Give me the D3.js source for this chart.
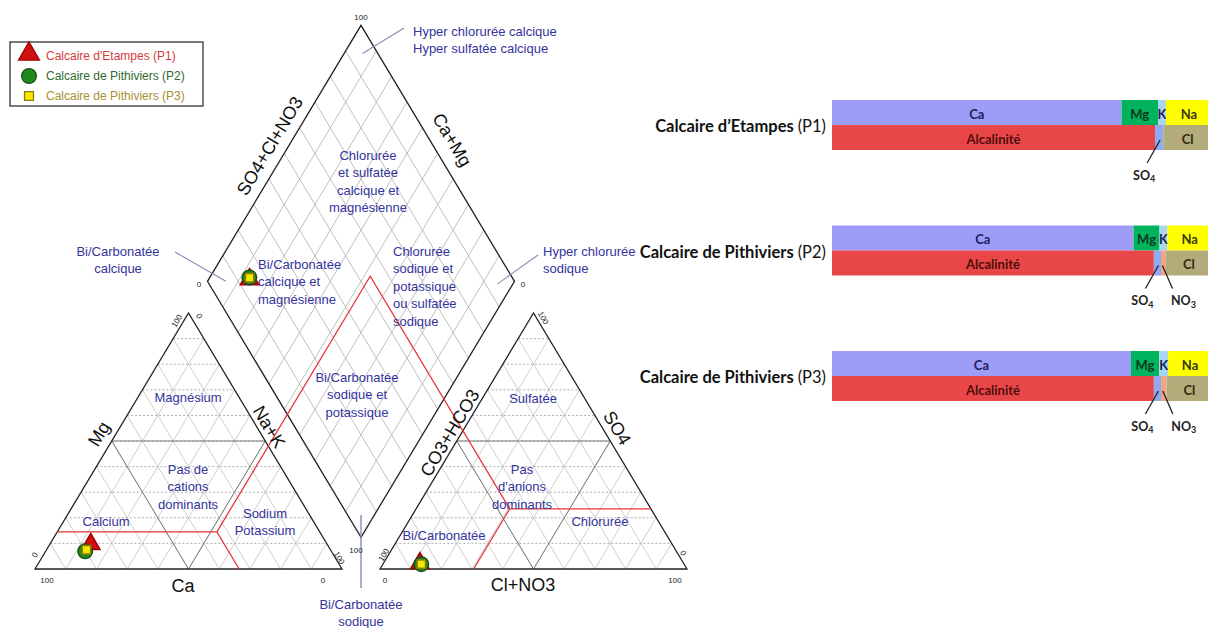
<!DOCTYPE html>
<html>
<head>
<meta charset="utf-8">
<script src="https://cdn.jsdelivr.net/npm/d3@7"></script>
<style>body{margin:0;background:#fff}</style>
</head>
<body>
<svg id="chart" width="1208" height="628"></svg>
<script>
// samples
var samples = ["P1", "P2", "P3"];
var sampleNames = ["Calcaire d\u2019Etampes", "Calcaire de Pithiviers", "Calcaire de Pithiviers"];
var legendNames = ["Calcaire d'Etampes (P1)", "Calcaire de Pithiviers (P2)", "Calcaire de Pithiviers (P3)"];
// cations, % meq
var ca = [77.0, 80.2, 79.5];
var mg = [9.7, 6.9, 7.5];
var k  = [2.1, 2.1, 2.4];
var na = [11.2, 10.8, 10.6];
// anions, % meq
var alc = [85.9, 85.6, 85.6];
var so4 = [2.2, 1.9, 1.9];
var no3 = [0.0, 1.3, 1.5];
var cl  = [11.9, 11.2, 11.0];
// grid steps and red boundary values
var gridSteps = [10, 20, 30, 40, 50, 60, 70, 80, 90];
var redMg = 14.5, redNaK = 52, redCa = 33.5;
var redSO4 = 23.5, redHCO3 = 46, redCl = 30.5;

var svg = d3.select("#chart");
var font = "'Liberation Sans', Arial, sans-serif";
var blue = "#34349c";

// piper geometry
var X0 = 35, Y0 = 569, S = 307, H = 256, G = 38;
var xs = d3.scaleLinear().domain([0, 100]).range([0, S]);
var ys = d3.scaleLinear().domain([0, 100]).range([0, H]);
var XB = X0 + S + G / 2, YB = Y0 - G * H / S;

function cat(c, m, n) { return [X0 + xs(n + m / 2), Y0 - ys(m)]; }
function ani(h, s, c) { return [X0 + S + G + xs(c + s / 2), Y0 - ys(s)]; }
function dia(a, c) { return [XB + xs((a - c) / 2), YB - ys(a + c)]; }

var line = d3.line();
var g = svg.append("g");

function seg(p, q, col, w, dash) {
	g.append("path").attr("d", line([p, q])).attr("stroke", col)
		.attr("stroke-width", w).attr("fill", "none")
		.attr("stroke-dasharray", dash || null);
}

// grids
gridSteps.forEach(function(i) {
	seg(cat(100 - i, i, 0), cat(0, i, 100 - i), "#9a9a9a", 0.8, "2,2");
	seg(cat(100 - i, 0, i), cat(0, 100 - i, i), "#c2c2c2", 0.8);
	seg(cat(i, 0, 100 - i), cat(i, 100 - i, 0), "#c2c2c2", 0.8);
	seg(ani(100 - i, i, 0), ani(0, i, 100 - i), "#9a9a9a", 0.8, "2,2");
	seg(ani(100 - i, 0, i), ani(0, 100 - i, i), "#c2c2c2", 0.8);
	seg(ani(i, 0, 100 - i), ani(i, 100 - i, 0), "#c2c2c2", 0.8);
	seg(dia(i, 0), dia(i, 100), "#b0b0b0", 0.8);
	seg(dia(0, i), dia(100, i), "#b0b0b0", 0.8);
});

// zone boundaries
[[cat, [50, 50, 0], [0, 50, 50]], [cat, [50, 0, 50], [50, 50, 0]], [cat, [50, 0, 50], [0, 50, 50]],
 [ani, [50, 50, 0], [0, 50, 50]], [ani, [50, 0, 50], [50, 50, 0]], [ani, [50, 0, 50], [0, 50, 50]]]
	.forEach(function(d) { seg(d[0].apply(null, d[1]), d[0].apply(null, d[2]), "#7a7a7a", 1); });

// outlines
function poly(pts) {
	g.append("path").attr("d", line(pts) + "Z").attr("fill", "none")
		.attr("stroke", "#222").attr("stroke-width", 1.3);
}
poly([cat(100, 0, 0), cat(0, 0, 100), cat(0, 100, 0)]);
poly([ani(100, 0, 0), ani(0, 0, 100), ani(0, 100, 0)]);
poly([dia(0, 0), dia(100, 0), dia(100, 100), dia(0, 100)]);

// red classification lines
var red = "#e8343a";
function redLine(pts) {
	g.append("path").attr("d", line(pts)).attr("fill", "none")
		.attr("stroke", red).attr("stroke-width", 1.3);
}
redLine([cat(100 - redMg, redMg, 0), cat(redCa, redMg, redNaK), cat(redCa, 0, 100 - redCa)]);
redLine([cat(redCa, redMg, redNaK), dia(100 - redHCO3, 100 - redNaK),
	ani(redHCO3, redSO4, redCl), ani(0, redSO4, 100 - redSO4)]);
redLine([ani(redHCO3, redSO4, redCl), ani(100 - redCl, 0, redCl)]);

// leader lines for corner labels
var lead = "#8a8ab8";
seg(dia(95, 94), [404, 28], lead, 1.1);
seg(dia(6, 94), [175, 252], lead, 1.1);
seg(dia(94, 5), [538, 255], lead, 1.1);
seg([XB, 515], [XB, 588], lead, 1.4);

// text helpers
function txt(x, y, s, opt) {
	opt = opt || {};
	var t = svg.append("text").attr("transform", "translate(" + x + "," + y + ") rotate(" + (opt.rot || 0) + ")")
		.attr("text-anchor", opt.anchor || "middle").attr("dominant-baseline", "central")
		.attr("font-family", opt.family || font).attr("font-size", opt.size || 13)
		.attr("fill", opt.fill || "#111").attr("font-weight", opt.weight || "normal").text(s);
	return t;
}
function zone(x, y, lines, anchor) {
	lines.forEach(function(s, j) { txt(x, y + j * 17.5, s, {fill: blue, anchor: anchor}); });
}

zone(368, 155, ["Chlorur\u00e9e", "et sulfat\u00e9e", "calcique et", "magn\u00e9sienne"]);
zone(258, 264, ["Bi/Carbonat\u00e9e", "calcique et", "magn\u00e9sienne"], "start");
zone(393, 251, ["Chlorur\u00e9e", "sodique et", "potassique", "ou sulfat\u00e9e", "sodique"], "start");
zone(357, 377, ["Bi/Carbonat\u00e9e", "sodique et", "potassique"]);
zone(413, 31, ["Hyper chlorur\u00e9e calcique", "Hyper sulfat\u00e9e calcique"], "start");
zone(543, 251, ["Hyper chlorur\u00e9e", " sodique"], "start");
zone(118, 251, ["Bi/Carbonat\u00e9e", "calcique"]);
zone(361, 604, ["Bi/Carbonat\u00e9e", "sodique"]);
zone(188, 397, ["Magn\u00e9sium"]);
zone(188, 469, ["Pas de", "cations", "dominants"]);
zone(106, 521, ["Calcium"]);
zone(265, 513, ["Sodium", "Potassium"]);
zone(533, 398, ["Sulfat\u00e9e"]);
zone(522, 469, ["Pas", "d'anions", "dominants"]);
zone(600, 521, ["Chlorur\u00e9e"]);
zone(444, 535, ["Bi/Carbonat\u00e9e"]);

// axis titles
var ang = Math.atan2(H, S / 2) * 180 / Math.PI;
txt(270, 146, "SO4+Cl+NO3", {rot: -ang, size: 18});
txt(452, 140, "Ca+Mg", {rot: ang, size: 18});
txt(99, 434, "Mg", {rot: -ang, size: 18});
txt(269, 427, "Na+K", {rot: ang, size: 18});
txt(183, 586, "Ca", {size: 18});
txt(450, 433, "CO3+HCO3", {rot: -ang, size: 18});
txt(617, 428, "SO4", {rot: ang, size: 18});
txt(523, 585, "Cl+NO3", {size: 18});

// tick labels
var tk = {size: 8, fill: "#222"};
txt(361, 17, "100", tk);
txt(199, 284, "0", tk);
txt(523, 284, "0", tk);
txt(356, 550, "100", tk);
txt(177, 321, "100", {size: 8, fill: "#222", rot: -ang});
txt(199, 316, "0", {size: 8, fill: "#222", rot: ang});
txt(35, 555, "0", {size: 8, fill: "#222", rot: -ang});
txt(47, 580, "100", tk);
txt(323, 580, "0", tk);
txt(339, 558, "100", {size: 8, fill: "#222", rot: ang});
txt(543, 318, "100", {size: 8, fill: "#222", rot: ang});
txt(384, 555, "100", {size: 8, fill: "#222", rot: -ang});
txt(385, 580, "0", tk);
txt(683, 553, "0", {size: 8, fill: "#222", rot: ang});
txt(675, 580, "100", tk);

// markers
var markers = [
	{type: d3.symbolTriangle, size: 150, fill: "#d01010", stroke: "#a00000"},
	{type: d3.symbolCircle, size: 165, fill: "#1e8a1e", stroke: "#1b4f1b"},
	{type: d3.symbolSquare, size: 70, fill: "#f6e800", stroke: "#8f7d00"}
];
function mark(p, i) {
	var m = markers[i];
	svg.append("path").attr("d", d3.symbol().type(m.type).size(m.size)())
		.attr("transform", "translate(" + p[0] + "," + p[1] + ")")
		.attr("fill", m.fill).attr("stroke", m.stroke).attr("stroke-width", 1.5);
}
samples.forEach(function(s, i) {
	var nak = na[i] + k[i];
	var cln = cl[i] + no3[i];
	mark(cat(ca[i], mg[i], nak), i);
	mark(ani(alc[i], so4[i], cln), i);
	mark(dia(so4[i] + cln, ca[i] + mg[i]), i);
});

// legend
svg.append("rect").attr("x", 10).attr("y", 42).attr("width", 193).attr("height", 64)
	.attr("fill", "#fff").attr("stroke", "#222").attr("stroke-width", 1.2);
var legCol = ["#d43a3a", "#2f6a2f", "#a89030"];
var legY = d3.scalePoint().domain(samples).range([56, 96]);
samples.forEach(function(s, i) {
	var m = markers[i];
	svg.append("path").attr("d", d3.symbol().type(m.type).size(i === 0 ? 190 : (i === 1 ? 170 : 80))())
		.attr("transform", "translate(29," + (legY(s) - (i === 0 ? 2 : 0)) + ")")
		.attr("fill", m.fill).attr("stroke", m.stroke).attr("stroke-width", 1.3);
	txt(46, legY(s), legendNames[i], {anchor: "start", size: 12, fill: legCol[i]});
});

// bars
var bx = d3.scaleLinear().domain([0, 100]).range([832, 1208]);
var by = d3.scalePoint().domain(samples).range([100, 351]);
var rowH = 25;
var rows = samples.map(function(s, i) {
	return {id: s, Ca: ca[i], Mg: mg[i], K: k[i], Na: na[i], Alc: alc[i], SO4: so4[i], NO3: no3[i], Cl: cl[i]};
});
var catKeys = ["Ca", "Mg", "K", "Na"], aniKeys = ["Alc", "SO4", "NO3", "Cl"];
var colors = {Ca: "#9d9cf6", Mg: "#00b35c", K: "#a9d6ee", Na: "#ffff00",
	Alc: "#e94747", SO4: "#8fa9f2", NO3: "#f2a583", Cl: "#b4ab7a"};
var names = {Ca: "Ca", Mg: "Mg", K: "K", Na: "Na", Alc: "Alcalinit\u00e9", Cl: "Cl"};
var textCol = {Ca: "#1d1d5e", Mg: "#0c3a1f", K: "#1d1d5e", Na: "#3a3a10", Alc: "#4e0d0d", Cl: "#2e2a10"};
var barFont = "Lato, 'Open Sans', sans-serif";

[[catKeys, 0], [aniKeys, rowH]].forEach(function(pair) {
	var series = d3.stack().keys(pair[0])(rows);
	series.forEach(function(sr) {
		sr.forEach(function(d) {
			var y = by(d.data.id) + pair[1];
			svg.append("rect").attr("x", bx(d[0])).attr("y", y)
				.attr("width", bx(d[1]) - bx(d[0])).attr("height", rowH)
				.attr("fill", colors[sr.key]);
			if (names[sr.key] && d[1] - d[0] > 0) {
				var cx = sr.key === "Na" || sr.key === "Cl" ? (bx(d[0]) + 1208) / 2 + 2 : (bx(d[0]) + bx(d[1])) / 2;
				txt(cx, y + rowH / 2 + 1, names[sr.key], {family: barFont, weight: "bold", size: 13, fill: textCol[sr.key]});
			}
		});
	});
	// leaders for small anion segments
	if (pair[0] === aniKeys) {
		var sSO4 = series[1], sNO3 = series[2];
		sSO4.forEach(function(d) {
			var y = by(d.data.id) + rowH * 2;
			var mx = bx((d[0] + d[1]) / 2);
			svg.append("path").attr("d", line([[mx + 1, y - 10], [mx - 12, y + 13]]))
				.attr("stroke", "#222").attr("stroke-width", 1.3);
			var lt = txt(mx - 15, y + 25, "SO", {family: barFont, weight: "bold", size: 12.5, fill: "#222"});
			lt.append("tspan").attr("font-size", 9).attr("dy", 3).text("4");
		});
		sNO3.forEach(function(d) {
			if (d.data.NO3 <= 0) return;
			var y = by(d.data.id) + rowH * 2;
			var mx = bx((d[0] + d[1]) / 2);
			svg.append("path").attr("d", line([[mx - 1, y - 10], [mx + 9, y + 13]]))
				.attr("stroke", "#222").attr("stroke-width", 1.3);
			var lt = txt(mx + 20, y + 25, "NO", {family: barFont, weight: "bold", size: 12.5, fill: "#222"});
			lt.append("tspan").attr("font-size", 9).attr("dy", 3).text("3");
		});
	}
});

// row labels
samples.forEach(function(s, i) {
	var t = txt(826, by(s) + rowH + 1, "", {anchor: "end", family: barFont, size: 16.5, fill: "#111"});
	t.append("tspan").attr("font-weight", "bold").text(sampleNames[i] + " ");
	t.append("tspan").text("(" + s + ")");
});
</script>
</body>
</html>
